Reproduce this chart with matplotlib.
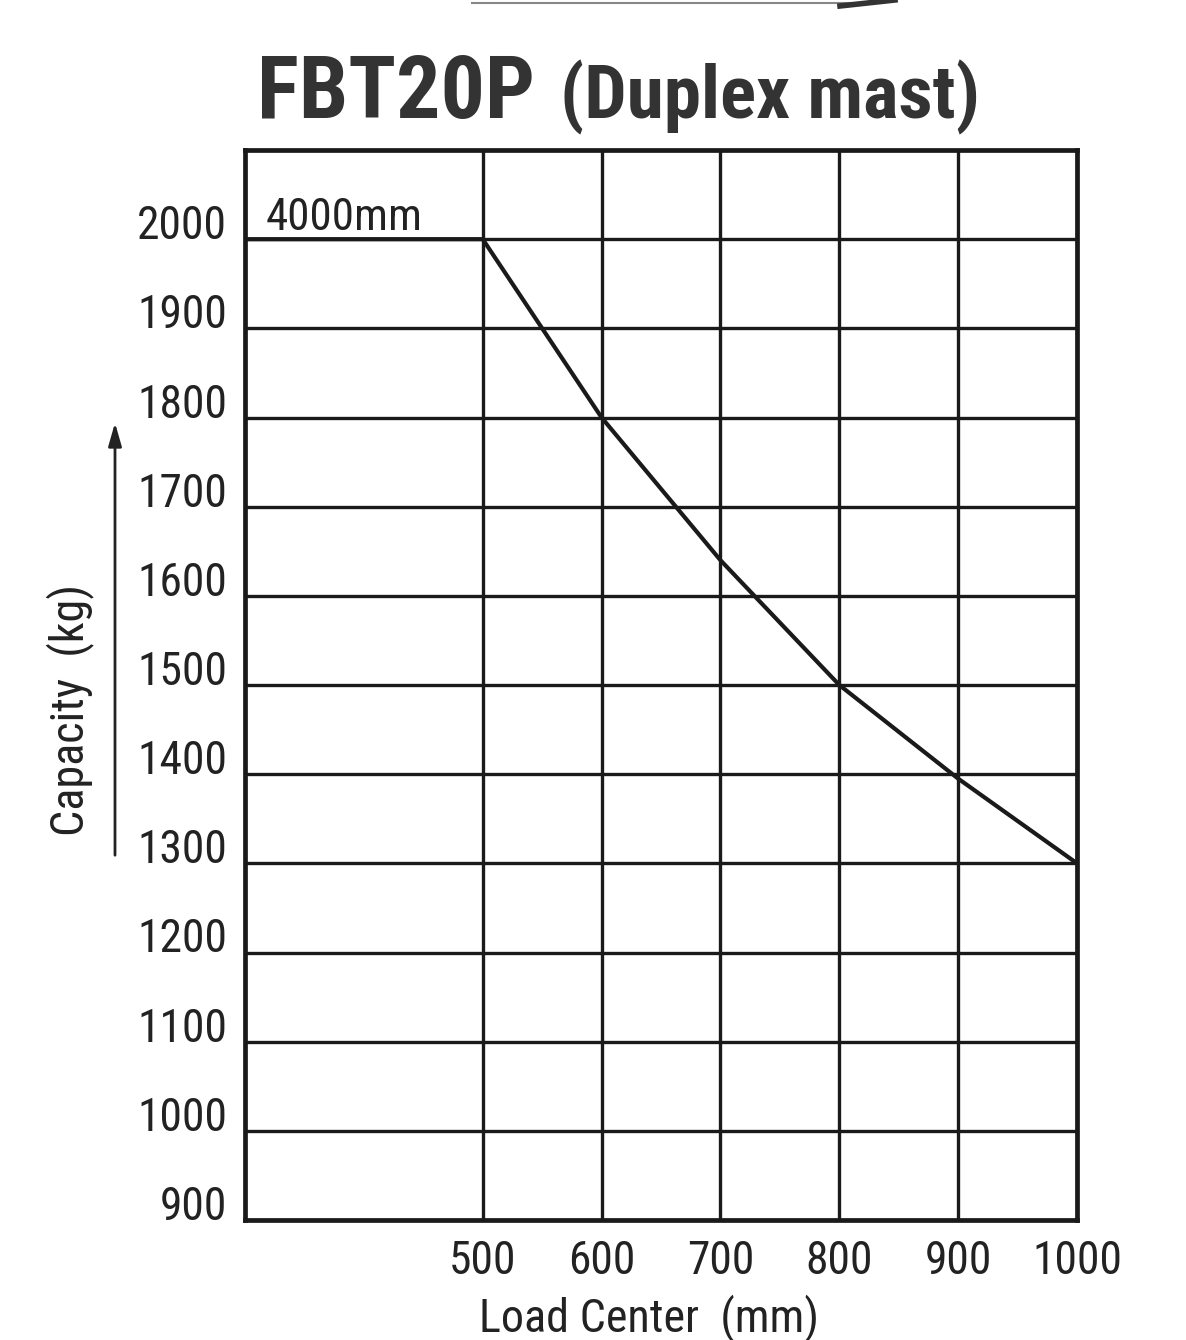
import matplotlib
matplotlib.use("Agg")
import matplotlib.pyplot as plt
from matplotlib import font_manager
from matplotlib.patches import FancyArrowPatch

names = {f.name for f in font_manager.fontManager.ttflist}
FONT = 'DejaVu Sans'
for cand in ['Liberation Sans Narrow', 'Roboto Condensed', 'Archivo Narrow', 'PT Sans Narrow',
             'Arimo', 'Liberation Sans']:
    if cand in names:
        FONT = cand
        break
FAM = [FONT, 'DejaVu Sans']

# Data
load_center = [300, 500, 600, 700, 800, 900, 1000]
capacity = [2000, 2000, 1800, 1640, 1500, 1395, 1300]
x_ticks = [500, 600, 700, 800, 900, 1000]
y_ticks = [900, 1000, 1100, 1200, 1300, 1400, 1500, 1600, 1700, 1800, 1900, 2000]
mast_label = "4000mm"

W, H = 1186, 1340
fig = plt.figure(figsize=(W / 100, H / 100), dpi=100)
fig.patch.set_facecolor('white')
renderer = fig.canvas.get_renderer()

def fx(px):
    return px / W

def fy(py):
    return 1 - py / H

def fit(t, target, use_height=False):
    """Scale font size so the rendered text spans target pixels."""
    for _ in range(3):
        bb = t.get_window_extent(renderer)
        cur = bb.height if use_height else bb.width
        if cur > 0:
            t.set_fontsize(t.get_fontsize() * target / cur)
    return t

ax = fig.add_axes([fx(245), fy(1220), fx(1077) - fx(245), fy(150) - fy(1220)])
ax.set_xlim(300, 1000)
ax.set_ylim(900, 2100)
ax.set_xticks(x_ticks)
ax.set_yticks(y_ticks)
ax.grid(True, color='#1a1a1a', linewidth=2.4)
ax.set_axisbelow(True)
for s in ax.spines.values():
    s.set_linewidth(3.4)
    s.set_color('#1a1a1a')

# Determine tick label size from a probe
probe = fig.text(0, 0, "2000", fontsize=30, family=FAM)
fit(probe, 90)
tick_size = probe.get_fontsize()
probe.remove()

ax.tick_params(axis='x', length=0, pad=14, labelsize=tick_size, colors='#222222')
ax.tick_params(axis='y', length=0, pad=13, labelsize=tick_size, colors='#222222')
for lab in ax.get_xticklabels() + ax.get_yticklabels():
    lab.set_family(FAM)
for lab in ax.get_yticklabels():
    lab.set_va('baseline')

ax.plot(load_center, capacity, color='#1a1a1a', linewidth=3.0, solid_capstyle='butt', zorder=3)
t_mast = ax.text(317, 2010, mast_label, fontsize=30, family=FAM, color='#222222',
                 va='baseline', ha='left')
fit(t_mast, 157)

# Title
t1 = fig.text(fx(257), fy(118), "FBT20P", fontsize=60, fontweight='bold', family=FAM,
              color='#333333', ha='left', va='baseline')
fit(t1, 278)
t2 = fig.text(fx(560), fy(118), "(Duplex mast)", fontsize=50, fontweight='bold', family=FAM,
              color='#333333', ha='left', va='baseline')
fit(t2, 420)

# Axis labels
t3 = fig.text(fx(70), fy(710), "Capacity  (kg)", fontsize=30, family=FAM, color='#222222',
              rotation=90, ha='center', va='center')
fit(t3, 252, use_height=True)
t4 = fig.text(fx(649), fy(1294), "Load Center  (mm)", fontsize=30, family=FAM, color='#222222',
              ha='center', va='top')
fit(t4, 340)

# Arrow beside y label
fig.add_artist(FancyArrowPatch(
    (fx(115), fy(858)), (fx(115), fy(420)), transform=fig.transFigure,
    arrowstyle='-|>,head_length=14,head_width=4', color='#222222', linewidth=2.0))

# Partial arrow at top (cut off)
fig.add_artist(plt.Line2D([fx(472), fx(860)], [fy(3), fy(3)], transform=fig.transFigure,
                          color='#888888', linewidth=1.5))
fig.add_artist(plt.Line2D([fx(840), fx(895)], [fy(6), fy(0)], transform=fig.transFigure,
                          color='#333333', linewidth=4))

fig.savefig("out.png", dpi=100, facecolor='white')
